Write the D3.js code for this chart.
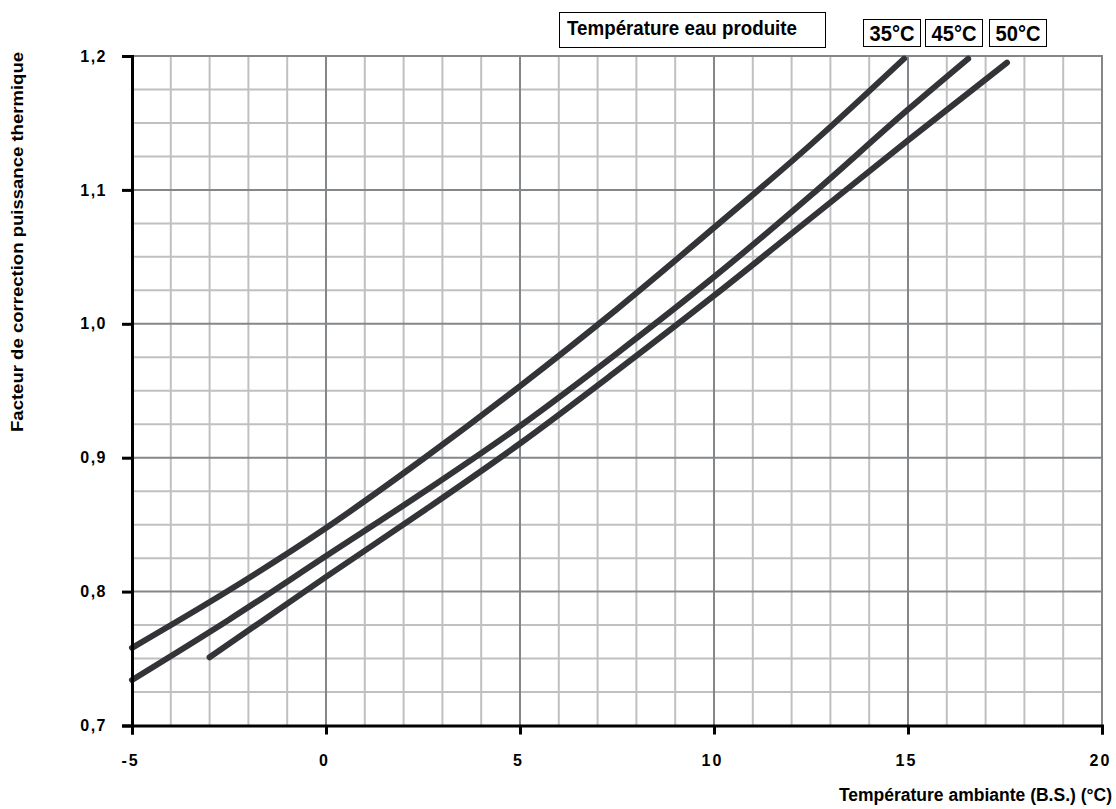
<!DOCTYPE html>
<html>
<head>
<meta charset="utf-8">
<script src="https://cdn.jsdelivr.net/npm/d3@7"></script>
<style>
  body { margin: 0; background: #fff; }
  svg { display: block; font-family: "Liberation Sans", Arial, sans-serif; font-weight: bold; }
</style>
</head>
<body>
<div id="chart"></div>
<script>
// ambient temperature (°C) -> correction factor, per water temperature
const series = ['35°C', '45°C', '50°C'];
const temp35 = [-5, -2.5, 0, 2.5, 5, 7.5, 10, 12.5, 14.9];
const fact35 = [0.758, 0.801, 0.8475, 0.899, 0.9535, 1.011, 1.0718, 1.134, 1.198];
const temp45 = [-5, -2.5, 0, 2.5, 5, 7.5, 10, 12.5, 15, 16.55];
const fact45 = [0.734, 0.779, 0.8266, 0.874, 0.9237, 0.978, 1.035, 1.096, 1.160, 1.198];
const temp50 = [-3, 0, 2.5, 5, 7.5, 10, 12.5, 15, 17.55];
const fact50 = [0.751, 0.811, 0.860, 0.9106, 0.965, 1.021, 1.079, 1.137, 1.195];

const xTicks = [-5, 0, 5, 10, 15, 20];
const yTicks = [0.7, 0.8, 0.9, 1.0, 1.1, 1.2];

const W = 1116, H = 809;
const x = d3.scaleLinear().domain([-5, 20]).range([132, 1102]);
const y = d3.scaleLinear().domain([0.7, 1.2]).range([725.5, 56]);

const svg = d3.select('#chart').append('svg')
  .attr('width', W).attr('height', H);

// minor grid: every 1 °C and every 0.025
const minorX = d3.range(-4, 21, 1).filter(v => v % 5 !== 0);
const minorY = d3.range(0, 21).map(i => 0.7 + i * 0.025).filter((v, i) => i % 4 !== 0);

const grid = svg.append('g');
grid.selectAll('.vmin').data(minorX).enter().append('line')
  .attr('x1', d => x(d)).attr('x2', d => x(d))
  .attr('y1', y(1.2)).attr('y2', y(0.7))
  .attr('stroke', '#c0c0c0').attr('stroke-width', 2);
grid.selectAll('.hmin').data(minorY).enter().append('line')
  .attr('x1', x(-5)).attr('x2', x(20))
  .attr('y1', d => y(d)).attr('y2', d => y(d))
  .attr('stroke', '#c0c0c0').attr('stroke-width', 2);
// major grid
grid.selectAll('.vmaj').data(xTicks.slice(1)).enter().append('line')
  .attr('x1', d => x(d)).attr('x2', d => x(d))
  .attr('y1', y(1.2)).attr('y2', y(0.7))
  .attr('stroke', '#84878a').attr('stroke-width', 2);
grid.selectAll('.hmaj').data(yTicks.slice(1)).enter().append('line')
  .attr('x1', x(-5)).attr('x2', x(20) + 1)
  .attr('y1', d => y(d)).attr('y2', d => y(d))
  .attr('stroke', '#84878a').attr('stroke-width', 2);

// curves
const data = [
  temp35.map((t, i) => [t, fact35[i]]),
  temp45.map((t, i) => [t, fact45[i]]),
  temp50.map((t, i) => [t, fact50[i]])
];
const line = d3.line()
  .x(d => x(d[0])).y(d => y(d[1]))
  .curve(d3.curveMonotoneX);
svg.append('g').selectAll('path').data(data).enter().append('path')
  .attr('d', line)
  .attr('fill', 'none')
  .attr('stroke', '#333438')
  .attr('stroke-width', 6)
  .attr('stroke-linecap', 'round');

// axes
const yAxis = d3.axisLeft(y).tickValues(yTicks).tickSize(10).tickPadding(15)
  .tickFormat(d => d3.format('.1f')(d).replace('.', ','));
const gy = svg.append('g').attr('transform', `translate(${x(-5)},0)`).call(yAxis);
gy.select('.domain').attr('stroke', '#000').attr('stroke-width', 3);
gy.selectAll('.tick line').attr('stroke', '#000').attr('stroke-width', 3);
gy.selectAll('.tick text')
  .style('font-size', '16px').style('letter-spacing', '1.5px')
  .style('font-family', 'Liberation Sans, Arial, sans-serif').style('font-weight', 'bold')
  .attr('fill', '#000');

const xAxis = d3.axisBottom(x).tickValues(xTicks).tickSize(9).tickPadding(20)
  .tickFormat(d => String(d));
const gx = svg.append('g').attr('transform', `translate(0,${y(0.7)})`).call(xAxis);
gx.select('.domain').attr('stroke', '#000').attr('stroke-width', 3);
gx.selectAll('.tick line').attr('stroke', '#000').attr('stroke-width', 3);
gx.selectAll('.tick text')
  .style('font-size', '16px').style('letter-spacing', '2px')
  .style('font-family', 'Liberation Sans, Arial, sans-serif').style('font-weight', 'bold')
  .attr('dx', -2).attr('fill', '#000');
svg.selectAll('.domain').attr('fill', 'none');

// axis titles
svg.append('text')
  .attr('transform', 'translate(23,242) rotate(-90)')
  .attr('text-anchor', 'middle')
  .attr('font-size', 17)
  .attr('textLength', 380).attr('lengthAdjust', 'spacingAndGlyphs')
  .text('Facteur de correction puissance thermique');
svg.append('text')
  .attr('x', 1112).attr('y', 801)
  .attr('text-anchor', 'end')
  .attr('font-size', 17.5)
  .text('Température ambiante (B.S.) (°C)');

// legend
const legend = svg.append('g');
legend.append('rect')
  .attr('x', 559.5).attr('y', 12.5).attr('width', 266).attr('height', 35)
  .attr('fill', '#fff').attr('stroke', '#000').attr('stroke-width', 1);
legend.append('text')
  .attr('x', 567).attr('y', 35)
  .attr('font-size', 20)
  .attr('textLength', 230).attr('lengthAdjust', 'spacingAndGlyphs')
  .text('Température eau produite');
const boxX = [863, 925, 989];
legend.selectAll('.lbox').data(series).enter().append('rect')
  .attr('x', (d, i) => boxX[i] + 0.5).attr('y', 19.5)
  .attr('width', 57).attr('height', 27)
  .attr('fill', '#fff').attr('stroke', '#000').attr('stroke-width', 1);
legend.selectAll('.ltext').data(series).enter().append('text')
  .attr('x', (d, i) => boxX[i] + 29).attr('y', 41)
  .attr('text-anchor', 'middle')
  .attr('font-size', 22)
  .attr('textLength', 45).attr('lengthAdjust', 'spacingAndGlyphs')
  .text(d => d);
</script>
</body>
</html>
